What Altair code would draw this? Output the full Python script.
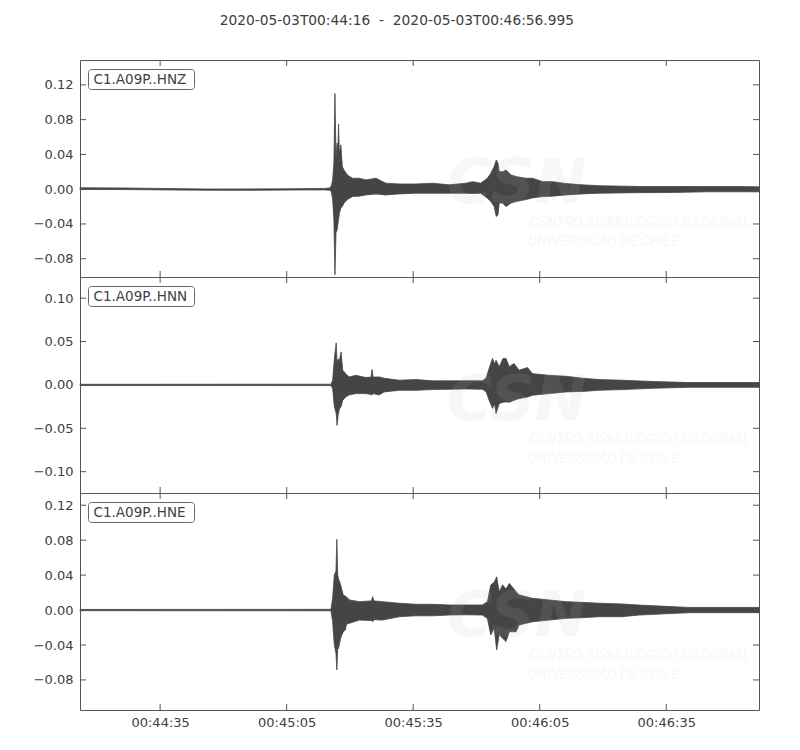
import json
import altair as alt
import pandas as pd

# ---------------- data ----------------
TITLE = "2020-05-03T00:44:16\u00a0\u00a0-\u00a0\u00a02020-05-03T00:46:56.995"
T_END = 160.995  # seconds after 00:44:16
X_TICKS = [19, 49, 79, 109, 139]
X_LABELS = ["00:44:35", "00:45:05", "00:45:35", "00:46:05", "00:46:35"]

# Trace 1: C1.A09P..HNZ  (envelope: time s, upper, lower)
Z_T = [0, 10, 20, 30, 40, 50, 58, 59.2, 59.6, 59.9, 60.2, 60.45, 60.7, 60.95, 61.15,
       61.3, 61.5, 61.85, 62.2, 62.6, 63.4, 64.6, 66.2, 67.8, 70.2, 72.5, 75.7, 79.6,
       83.6, 87.5, 91.5, 93.1, 95.0, 96.6, 97.4, 98.2, 98.7, 99.1, 99.4, 100.2, 101.0,
       102.2, 103.4, 105.7, 107.3, 109.7, 112.0, 115.2, 119.1, 123.1, 132.6, 140.5,
       148.4, 156.3, 161.0]
Z_HI = [0.0016, 0.0014, 0.0008, 0.0002, 0.0003, 0.0005, 0.0008, 0.0015, 0.004, 0.0107,
        0.030, 0.110, 0.034, 0.053, 0.045, 0.075, 0.040, 0.051, 0.026, 0.022, 0.0164,
        0.0126, 0.0126, 0.0107, 0.0126, 0.0069, 0.006, 0.006, 0.0069, 0.005, 0.0069,
        0.0087, 0.0069, 0.0126, 0.0184, 0.026, 0.0337, 0.030, 0.020, 0.020, 0.022,
        0.0164, 0.0145, 0.0126, 0.0126, 0.0087, 0.0087, 0.0065, 0.005, 0.004, 0.0031,
        0.0031, 0.003, 0.003, 0.0027]
Z_LO = [-0.0004, -0.0004, -0.0008, -0.0012, -0.0013, -0.0010, -0.0008, -0.0012, -0.003,
        -0.012, -0.035, -0.0985, -0.050, -0.047, -0.040, -0.035, -0.028, -0.0215, -0.020,
        -0.016, -0.012, -0.0085, -0.008, -0.0066, -0.0055, -0.0066, -0.0054, -0.0046,
        -0.0046, -0.0046, -0.0046, -0.005, -0.0046, -0.0103, -0.0142, -0.020, -0.0315,
        -0.0295, -0.016, -0.016, -0.020, -0.016, -0.0142, -0.012, -0.010, -0.0085,
        -0.008, -0.0066, -0.0054, -0.0046, -0.004, -0.0038, -0.003, -0.003, -0.003]

# Trace 2: C1.A09P..HNN
N_T = [0, 59.5, 59.9, 60.3, 60.75, 60.95, 61.2, 61.5, 61.9, 62.3, 63.0, 63.8, 65.4, 67.8,
       69.0, 69.25, 69.5, 70.9, 72.1, 75.7, 79.6, 83.6, 87.5, 91.5, 95.4, 96.3, 97.0,
       97.8, 98.3, 98.65, 99.4, 100.3, 101.0, 101.8, 102.9, 104.1, 106.1, 107.3, 111.2,
       115.2, 119.1, 123.1, 128.5, 136.0, 144.4, 161.0]
N_HI = [0.0007, 0.0008, 0.0054, 0.030, 0.0485, 0.025, 0.030, 0.028, 0.038, 0.017, 0.013,
        0.0092, 0.011, 0.0085, 0.009, 0.0178, 0.009, 0.0092, 0.0077, 0.0054, 0.0062,
        0.0047, 0.0047, 0.0047, 0.0047, 0.008, 0.019, 0.0305, 0.024, 0.0285, 0.021,
        0.0305, 0.0305, 0.021, 0.0247, 0.017, 0.020, 0.013, 0.011, 0.010, 0.0077,
        0.0062, 0.0054, 0.0039, 0.0027, 0.0027]
N_LO = [-0.0007, -0.0008, -0.004, -0.025, -0.033, -0.0465, -0.035, -0.028, -0.025,
        -0.0177, -0.0139, -0.0116, -0.010, -0.010, -0.011, -0.0116, -0.010, -0.0116,
        -0.0081, -0.0062, -0.0062, -0.0054, -0.005, -0.0046, -0.005, -0.008, -0.0177,
        -0.027, -0.022, -0.033, -0.0215, -0.020, -0.0196, -0.020, -0.0177, -0.0158,
        -0.014, -0.0119, -0.010, -0.0081, -0.0075, -0.0062, -0.0054, -0.0039, -0.0027,
        -0.0027]

# Trace 3: C1.A09P..HNE
E_T = [0, 59.5, 59.9, 60.3, 60.7, 60.9, 61.1, 61.3, 61.8, 62.4, 62.9, 63.2, 63.9, 66.2,
       69.1, 69.4, 69.7, 71.7, 75.7, 79.6, 83.6, 87.5, 91.5, 95.4, 96.6, 97.4, 98.2,
       98.8, 99.4, 100.2, 101.0, 101.8, 103.4, 104.1, 107.3, 111.2, 115.2, 119.1, 123.1,
       128.5, 132.6, 140.0, 144.4, 161.0]
E_HI = [0.0007, 0.0008, 0.0135, 0.040, 0.045, 0.081, 0.040, 0.036, 0.029, 0.0173, 0.016,
        0.015, 0.0116, 0.0096, 0.0105, 0.0153, 0.0105, 0.0096, 0.0078, 0.0066, 0.0066,
        0.0058, 0.0058, 0.0058, 0.0096, 0.0287, 0.0318, 0.038, 0.021, 0.029, 0.024,
        0.0306, 0.021, 0.0173, 0.0135, 0.0116, 0.0096, 0.0088, 0.0078, 0.007, 0.0057,
        0.004, 0.003, 0.003]
E_LO = [-0.0007, -0.0008, -0.0134, -0.040, -0.050, -0.0686, -0.045, -0.044, -0.032,
        -0.025, -0.0228, -0.016, -0.0151, -0.0115, -0.012, -0.0133, -0.011, -0.0115,
        -0.0076, -0.0066, -0.0066, -0.0057, -0.0054, -0.0057, -0.0096, -0.0285, -0.021,
        -0.0457, -0.028, -0.0323, -0.036, -0.0248, -0.0248, -0.017, -0.0134, -0.0115,
        -0.0095, -0.0088, -0.0076, -0.0076, -0.0057, -0.004, -0.003, -0.003]

LABELS = ["C1.A09P..HNZ", "C1.A09P..HNN", "C1.A09P..HNE"]
Y_DOMAINS = [[-0.101, 0.1486], [-0.1246, 0.1244], [-0.1144, 0.134]]
Y_TICKS = [[-0.08, -0.04, 0.0, 0.04, 0.08, 0.12],
           [-0.10, -0.05, 0.0, 0.05, 0.10],
           [-0.08, -0.04, 0.0, 0.04, 0.08, 0.12]]
WM_BIG = "CSN"
WM_LINE1 = "CENTRO SISMOLÓGICO NACIONAL"
WM_LINE2 = "UNIVERSIDAD DE CHILE"

# ---------------- styling ----------------
W = 679
HEIGHTS = [217, 216, 217]
WAVE = "#454545"
FRAME = "#555555"
TEXT = "#404040"
FONT = "DejaVu Sans"
WM_COLOR = "#bbbbbb"
WM_OPACITY = 0.11

label_expr = "{}[indexof({}, datum.value)]".format(json.dumps(X_LABELS), json.dumps(X_TICKS))


def make_panel(label, t, hi, lo, ydom, yticks, h, bottom):
    xscale = alt.Scale(domain=[0, T_END], nice=False, zero=False)
    yscale = alt.Scale(domain=ydom, nice=False, zero=False)
    yaxis = alt.Axis(values=yticks, format=".2f", ticks=False, domain=False, grid=False,
                     labelPadding=7, title=None)
    if bottom:
        xaxis = alt.Axis(values=X_TICKS, labelExpr=label_expr, ticks=False, domain=False,
                         grid=False, labelPadding=6, title=None)
    else:
        xaxis = None

    df = pd.DataFrame({"t": t, "hi": hi, "lo": lo})
    area = alt.Chart(df).mark_area(
        color=WAVE, stroke=WAVE, strokeWidth=0.8, interpolate="linear"
    ).encode(
        x=alt.X("t:Q", scale=xscale, axis=xaxis, title=None),
        y=alt.Y("hi:Q", scale=yscale, axis=yaxis, title=None),
        y2="lo:Q",
    )

    ydf = pd.DataFrame({"v": yticks})
    xdf = pd.DataFrame({"v": X_TICKS})
    yl = alt.Chart(ydf).mark_rule(color=FRAME, strokeWidth=1).encode(
        y=alt.Y("v:Q", scale=yscale, axis=yaxis, title=None),
        x=alt.value(0), x2=alt.value(6))
    yr = alt.Chart(ydf).mark_rule(color=FRAME, strokeWidth=1).encode(
        y=alt.Y("v:Q", scale=yscale, axis=yaxis, title=None),
        x=alt.value(W - 6), x2=alt.value(W))
    xt = alt.Chart(xdf).mark_rule(color=FRAME, strokeWidth=1).encode(
        x=alt.X("v:Q", scale=xscale, axis=xaxis, title=None),
        y=alt.value(0), y2=alt.value(6))
    xb = alt.Chart(xdf).mark_rule(color=FRAME, strokeWidth=1).encode(
        x=alt.X("v:Q", scale=xscale, axis=xaxis, title=None),
        y=alt.value(h - 6), y2=alt.value(h))

    ldf = pd.DataFrame({"s": [label]})
    box = alt.Chart(ldf).mark_rect(
        fill="white", stroke="#666666", strokeWidth=1, cornerRadius=3
    ).encode(x=alt.value(8.5), x2=alt.value(114.5), y=alt.value(9.5), y2=alt.value(29.5))
    txt = alt.Chart(ldf).mark_text(
        align="left", baseline="middle", font=FONT, fontSize=13.5, color=TEXT
    ).encode(x=alt.value(13.5), y=alt.value(20), text="s:N")

    wdf = pd.DataFrame({"a": [WM_BIG], "b": [WM_LINE1], "c": [WM_LINE2]})
    wm_big = alt.Chart(wdf).mark_text(
        align="center", baseline="middle", font=FONT, fontSize=62, fontStyle="italic",
        fontWeight="bold", color=WM_COLOR, opacity=WM_OPACITY, clip=True
    ).encode(x=alt.value(437), y=alt.value(124), text="a:N")
    wm1 = alt.Chart(wdf).mark_text(
        align="left", baseline="middle", font="Liberation Sans Narrow, Roboto", fontSize=14.5,
        fontStyle="italic", color=WM_COLOR, opacity=WM_OPACITY, clip=True
    ).encode(x=alt.value(449), y=alt.value(163), text="b:N")
    wm2 = alt.Chart(wdf).mark_text(
        align="left", baseline="middle", font="Liberation Sans Narrow, Roboto", fontSize=14.5,
        fontStyle="italic", color=WM_COLOR, opacity=WM_OPACITY, clip=True
    ).encode(x=alt.value(448), y=alt.value(182), text="c:N")

    return alt.layer(area, yl, yr, xt, xb, box, txt, wm_big, wm1, wm2).properties(
        width=W, height=h)


panels = []
traces = [(Z_T, Z_HI, Z_LO), (N_T, N_HI, N_LO), (E_T, E_HI, E_LO)]
for i, (t, hi, lo) in enumerate(traces):
    panels.append(make_panel(LABELS[i], t, hi, lo, Y_DOMAINS[i], Y_TICKS[i], HEIGHTS[i], i == 2))

chart = alt.vconcat(*panels, spacing=0, bounds="flush").properties(
    title=alt.TitleParams(TITLE, fontSize=13.8, font=FONT, fontWeight="normal", color=TEXT,
                          anchor="middle", offset=31),
    padding={"left": 24, "top": 6, "right": 10, "bottom": 5},
).configure_view(
    stroke=FRAME, strokeWidth=1
).configure_axis(
    labelFont=FONT, labelFontSize=13, labelColor=TEXT
).configure_concat(spacing=0)

chart.save("out.html", embed_options={"renderer": "svg", "actions": False})
